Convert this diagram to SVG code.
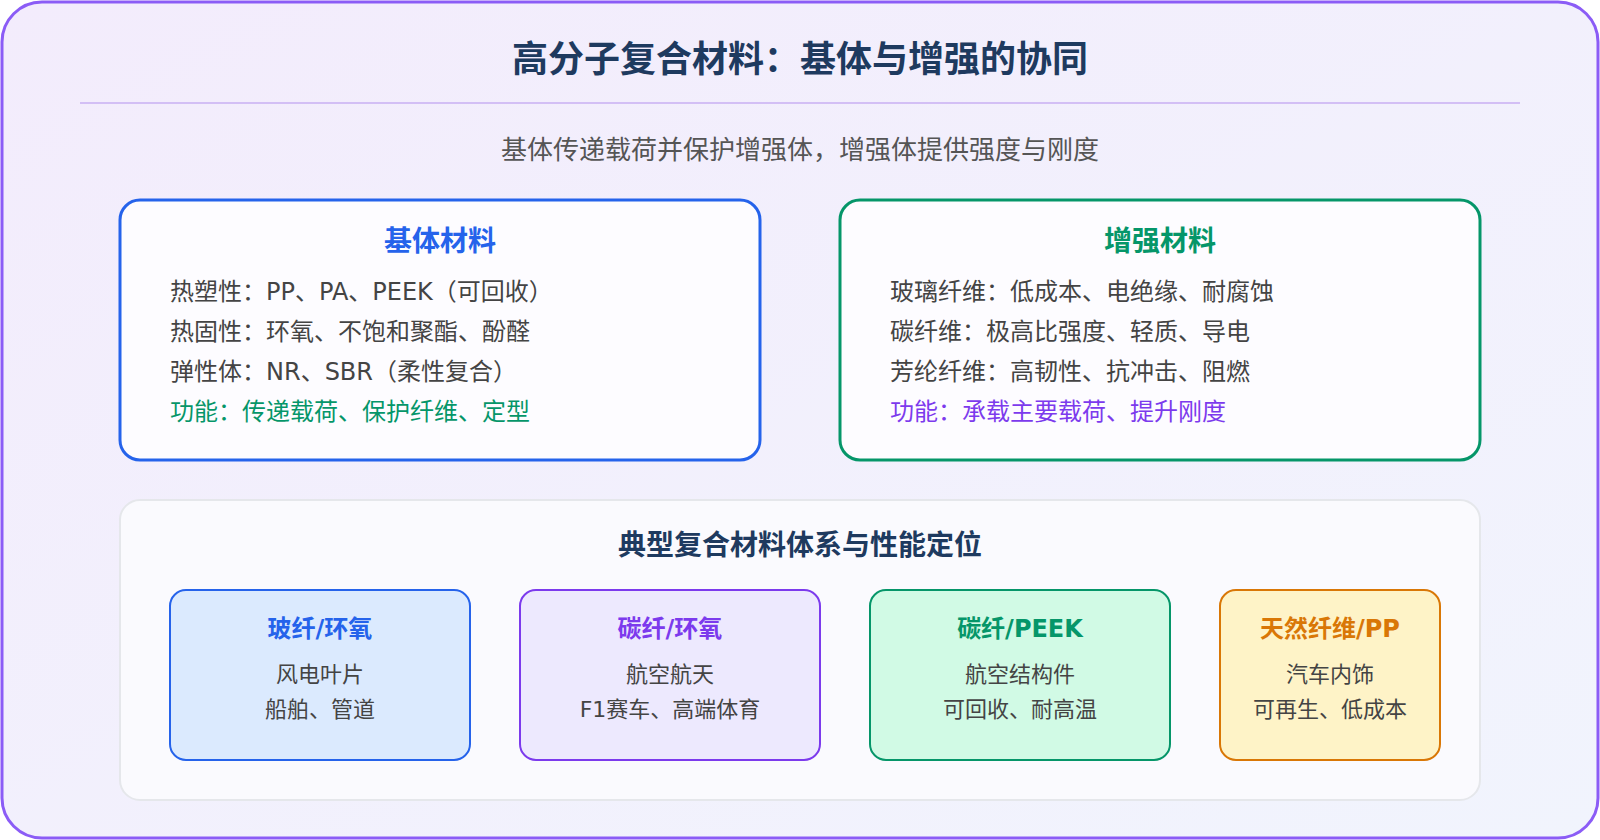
<svg xmlns="http://www.w3.org/2000/svg" width="1600" height="840" viewBox="0 0 1600 840">
<defs>
<linearGradient id="bg" x1="0" y1="0" x2="1" y2="1"><stop offset="0" stop-color="#f3ecfc"/><stop offset="1" stop-color="#f1f4fd"/></linearGradient>
<style>
text{font-family:"DejaVu Sans","Noto Sans CJK SC",sans-serif}
.t{font-size:22px;fill:#444}
.b{font-size:24px;fill:#444}
.c{text-anchor:middle}
.h{font-weight:bold}
</style>
</defs>
<rect x="2" y="2" width="1596" height="836" rx="40" fill="url(#bg)" stroke="#8b5cf6" stroke-width="3"/>
<text x="800" y="72" class="c h" font-size="36" fill="#1e3a5f">高分子复合材料：基体与增强的协同</text>
<line x1="80" y1="103" x2="1520" y2="103" stroke="#d3bff5" stroke-width="2"/>
<text x="800" y="159" class="c" font-size="26" fill="#555">基体传递载荷并保护增强体，增强体提供强度与刚度</text>
<g id="matrix">
<rect x="120" y="200" width="640" height="260" rx="20" fill="#fdfcff" stroke="#2563eb" stroke-width="3"/>
<text x="440" y="251" class="c h" font-size="28" fill="#2563eb">基体材料</text>
<text x="170" y="300" class="b">热塑性：PP、PA、PEEK（可回收）</text>
<text x="170" y="340" class="b">热固性：环氧、不饱和聚酯、酚醛</text>
<text x="170" y="380" class="b">弹性体：NR、SBR（柔性复合）</text>
<text x="170" y="420" class="b" style="fill:#059669">功能：传递载荷、保护纤维、定型</text>
</g>
<g id="reinforce">
<rect x="840" y="200" width="640" height="260" rx="20" fill="#fdfcff" stroke="#059669" stroke-width="3"/>
<text x="1160" y="251" class="c h" font-size="28" fill="#059669">增强材料</text>
<text x="890" y="300" class="b">玻璃纤维：低成本、电绝缘、耐腐蚀</text>
<text x="890" y="340" class="b">碳纤维：极高比强度、轻质、导电</text>
<text x="890" y="380" class="b">芳纶纤维：高韧性、抗冲击、阻燃</text>
<text x="890" y="420" class="b" style="fill:#7c3aed">功能：承载主要载荷、提升刚度</text>
</g>
<g id="panel">
<rect x="120" y="500" width="1360" height="300" rx="20" fill="#fafafe" stroke="#e5e7eb" stroke-width="2"/>
<text x="800" y="555" class="c h" font-size="28" fill="#1e3a5f">典型复合材料体系与性能定位</text>
</g>
<g id="gf">
<rect x="170" y="590" width="300" height="170" rx="16" fill="#dbeafe" stroke="#2563eb" stroke-width="2"/>
<text x="320" y="637" class="c h" font-size="24" fill="#2563eb">玻纤/环氧</text>
<text x="320" y="682" class="c t">风电叶片</text>
<text x="320" y="717" class="c t">船舶、管道</text>
</g>
<g id="cf">
<rect x="520" y="590" width="300" height="170" rx="16" fill="#ede9fe" stroke="#7c3aed" stroke-width="2"/>
<text x="670" y="637" class="c h" font-size="24" fill="#7c3aed">碳纤/环氧</text>
<text x="670" y="682" class="c t">航空航天</text>
<text x="670" y="717" class="c t">F1赛车、高端体育</text>
</g>
<g id="peek">
<rect x="870" y="590" width="300" height="170" rx="16" fill="#d1fae5" stroke="#059669" stroke-width="2"/>
<text x="1020" y="637" class="c h" font-size="24" fill="#059669">碳纤/PEEK</text>
<text x="1020" y="682" class="c t">航空结构件</text>
<text x="1020" y="717" class="c t">可回收、耐高温</text>
</g>
<g id="nf">
<rect x="1220" y="590" width="220" height="170" rx="16" fill="#fef3c7" stroke="#d97706" stroke-width="2"/>
<text x="1330" y="637" class="c h" font-size="24" fill="#d97706">天然纤维/PP</text>
<text x="1330" y="682" class="c t">汽车内饰</text>
<text x="1330" y="717" class="c t">可再生、低成本</text>
</g>
<g id="connectors"/>
</svg>
